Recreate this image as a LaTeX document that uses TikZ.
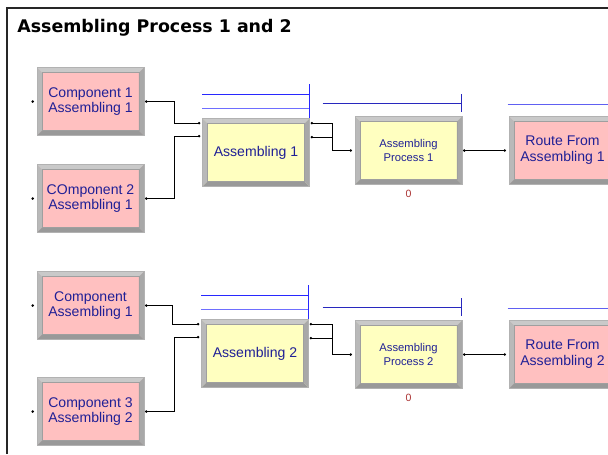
\documentclass[tikz,border=0pt]{standalone}
\usepackage{fontspec}
\setmainfont{Liberation Sans}
\newfontfamily\headfont{DejaVu Sans}
\usetikzlibrary{calc,positioning}

\definecolor{modpink}{RGB}{255,192,192}
\definecolor{modyellow}{RGB}{255,255,192}
\definecolor{modtext}{RGB}{32,32,150}
\definecolor{qblue}{RGB}{40,40,255}
\definecolor{qlight}{RGB}{110,110,255}
\definecolor{qdark}{RGB}{40,40,190}
\definecolor{cntred}{RGB}{170,50,50}

\tikzset{
  % 3d frame round a module
  bevel/.style={path picture={
    \coordinate (bnw) at (path picture bounding box.north west);
    \coordinate (bne) at (path picture bounding box.north east);
    \coordinate (bsw) at (path picture bounding box.south west);
    \coordinate (bse) at (path picture bounding box.south east);
    \coordinate (inw) at ($(bnw)+(5,5)$);
    \coordinate (ine) at ($(bne)+(-5,5)$);
    \coordinate (isw) at ($(bsw)+(5,-5)$);
    \coordinate (ise) at ($(bse)+(-5,-5)$);
    \fill[gray!42] (bnw) -- (bne) -- (ine) -- (inw) -- cycle;
    \fill[gray!55] (bnw) -- (inw) -- (isw) -- (bsw) -- cycle;
    \fill[gray!80] (bsw) -- (isw) -- (ise) -- (bse) -- cycle;
    \fill[gray!68] (bne) -- (bse) -- (ise) -- (ine) -- cycle;
    \draw[gray!75, line width=0.3pt] (inw) rectangle (ise);
  }},
  module/.style={draw=gray!60, line width=0.4pt, minimum width=2.14cm,
    minimum height=1.36cm, inner sep=0pt, align=center, text=modtext,
    font=\fontsize{8}{9}\selectfont, bevel},
  create/.style={module, fill=modpink},
  batch/.style={module, fill=modyellow},
  process/.style={module, fill=modyellow, font=\fontsize{6.4}{8}\selectfont},
  route/.style={module, fill=modpink},
  counter/.style={inner sep=0pt, text=cntred, font=\fontsize{6}{6}\selectfont},
  title/.style={inner sep=0pt, font=\headfont\bfseries\fontsize{9.9}{12}\selectfont},
  frame/.style={draw=gray!30!black, line width=1pt},
  wire/.style={draw=black, line width=0.6pt},
  dot/.style={fill=black},
  queue/.style={line width=0.6pt}
}

\begin{document}
\begin{tikzpicture}[x=0.02cm, y=-0.02cm]
\useasboundingbox (0,0) rectangle (608,454);
\draw[frame] (7,454) |- (608,8);
\node[title, anchor=base west] (title) at (17,32) {Assembling Process 1 and 2};

% first line
\node[create] (c11) at (90.5,101.5) {Component 1\\Assembling 1};
\node[create] (c21) at (90.5,198.5) {COmponent 2\\Assembling 1};
\node[batch] (asm1) at (256,152.5) {Assembling 1};
\node[process] (proc1) at (408.5,150.5) {Assembling\\Process 1};
\node[route] (route1) at (562.5,150.5) {Route From\\Assembling 1};
\node[counter, below=0.1cm of proc1] (cnt1) {0};

% second line
\node[create] (c12) at (90.5,305.5) {Component\\Assembling 1};
\node[create] (c32) at (90.5,411.5) {Component 3\\Assembling 2};
\node[batch] (asm2) at (255,353.5) {Assembling 2};
\node[process] (proc2) at (408.5,354.5) {Assembling\\Process 2};
\node[route] (route2) at (562.5,354.5) {Route From\\Assembling 2};
\node[counter, below=0.1cm of proc2] (cnt2) {0};

% ports
\foreach \m in {c11,c21,c12,c32,proc1,proc2,route1,route2} {
  \coordinate (\m i) at ($(\m.west)+(-4,0)$);
  \coordinate (\m o) at ($(\m.east)+(2,0)$);
}
\foreach \m in {asm1,asm2} {
  \coordinate (\m i1) at ($(\m.north west)+(-3,5)$);
  \coordinate (\m i2) at ($(\m.north west)+(-3,18)$);
  \coordinate (\m o1) at ($(\m.north east)+(2,5)$);
  \coordinate (\m o2) at ($(\m.north east)+(2,19)$);
}

% connections
\draw[wire] (c11o) -- ++(28.5,0) |- (asm1i1);
\draw[wire] (c21o) -- ++(28.5,0) |- (asm1i2);
\draw[wire] (asm1o1) -- ++(21,0) |- (proc1i);
\draw[wire] (asm1o2) -- ++(21,0);
\draw[wire] (proc1o) -- (route1i);

\draw[wire] (c12o) -- ++(26.5,0) |- (asm2i1);
\draw[wire] (c32o) -- ++(28.5,0) |- (asm2i2);
\draw[wire] (asm2o1) -- ++(22,0) |- (proc2i);
\draw[wire] (asm2o2) -- ++(22,0);
\draw[wire] (proc2o) -- (route2i);

\foreach \p in {c11i,c11o,c21i,c21o,c12i,c12o,c32i,c32o,
                asm1i1,asm1i2,asm1o1,asm1o2,asm2i1,asm2i2,asm2o1,asm2o2,
                proc1i,proc1o,proc2i,proc2o,route1i,route2i}
  \fill[dot] (\p) circle (0.8pt);

% queues and animation lines
\foreach \m in {asm1,asm2} {
  \draw[queue, qblue] ($(\m.north west)+(0,-24)$) -- ($(\m.north east)+(0,-24)$);
  \draw[queue, qlight] ($(\m.north west)+(0,-10)$) -- ($(\m.north east)+(0,-10)$);
  \draw[queue, qblue] ($(\m.north east)+(0,-34)$) -- (\m.north east);
}
\foreach \m in {proc1,proc2} {
  \draw[queue, qdark] ($(\m.north west)+(-32,-13)$) -- ($(\m.north east)+(-0.5,-13)$);
  \draw[queue, qdark] ($(\m.north east)+(-0.5,-22)$) -- ($(\m.north east)+(-0.5,-4)$);
}
\foreach \m in {route1,route2}
  \draw[queue, qlight!80!qdark] ($(\m.north west)+(-1,-12)$) -- ($(\m.north east)+(0,-12)$);
\end{tikzpicture}
\end{document}
